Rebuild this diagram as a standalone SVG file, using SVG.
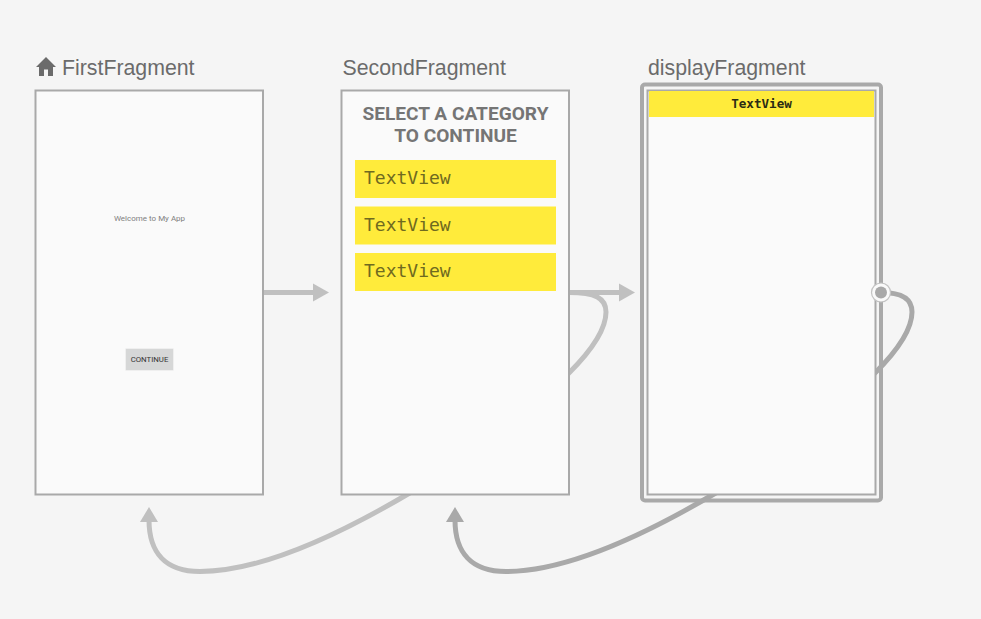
<svg xmlns="http://www.w3.org/2000/svg" width="981" height="619" viewBox="0 0 981 619">
<style>
.title{font-family:"Liberation Sans",Arial,sans-serif;font-size:21.300px;fill:#6b6b6b}
.screen{fill:#fafafa;stroke:#a9a9a9;stroke-width:2}
.tv{fill:#ffeb3b}
.tvl{font-family:"DejaVu Sans Mono",monospace;font-size:18px;fill:#6f6a20}
.c1{fill:none;stroke:#c0c0c0;stroke-width:5}
.c2{fill:none;stroke:#a9a9a9;stroke-width:5}
</style>
<rect width="981" height="619" fill="#f5f5f5"/>
<g id="connectors">
<path class="c1" d="M263 292.500H316"/>
<path d="M313 283.500L329 292.500L313 301.500Z" fill="#c0c0c0"/>
<path class="c1" d="M560 292.500H622"/>
<path d="M619 283.500L635 292.500L619 301.500Z" fill="#c0c0c0"/>
<path class="c1" d="M560 292.500H569C595 292.500 606 298 606 312C606 332 588 354 569 373L560 382"/>
<path class="c2" d="M881 292.500C901 292.500 912 298 912 312C912 332 894 354 875 373L866 382"/>
<path class="c1" d="M420 487L408 494C330 540 255 571.500 200 571.500C165 571.500 149 552 149 520"/>
<path d="M140 522L149 507L158 522Z" fill="#c0c0c0"/>
<path class="c2" d="M726 487L714 494C636 540 561 571.500 506 571.500C471 571.500 455 552 455 520"/>
<path d="M446 522L455 507L464 522Z" fill="#a9a9a9"/>
</g>
<g id="FirstFragment">
<path d="M46 57L36 67H39V76H44V69.500H48V76H53V67H56Z" fill="#6b6b6b"/>
<text class="title" x="62" y="75">FirstFragment</text>
<rect class="screen" x="35.500" y="90.500" width="227.500" height="404"/>
<text x="149.500" y="221" text-anchor="middle" font-family="Roboto,sans-serif" font-size="8px" fill="#808080">Welcome to My App</text>
<rect x="125.500" y="348.500" width="48" height="22" fill="#e4e4e4"/>
<rect x="126" y="349" width="47" height="21" fill="#d6d7d7"/>
<text x="149.500" y="362" text-anchor="middle" font-family="Roboto,sans-serif" font-size="7.800px" fill="#333">CONTINUE</text>
</g>
<g id="SecondFragment">
<text class="title" x="342.500" y="75">SecondFragment</text>
<rect class="screen" x="341.500" y="90.500" width="227.500" height="404"/>
<g font-family="Roboto,sans-serif" font-size="19.100px" font-weight="700" fill="#757575" text-anchor="middle">
<text x="455.500" y="120">SELECT A CATEGORY</text>
<text x="455.500" y="142">TO CONTINUE</text>
</g>
<rect class="tv" x="355" y="160" width="201" height="38"/>
<rect class="tv" x="355" y="206.500" width="201" height="38"/>
<rect class="tv" x="355" y="253" width="201" height="38"/>
<text class="tvl" x="364" y="184">TextView</text>
<text class="tvl" x="364" y="230.500">TextView</text>
<text class="tvl" x="364" y="277">TextView</text>
</g>
<g id="displayFragment">
<text class="title" x="648" y="75">displayFragment</text>
<rect x="642" y="84.500" width="239" height="416" rx="3" fill="none" stroke="#a9a9a9" stroke-width="4"/>
<rect class="screen" x="647.500" y="90.500" width="228" height="404"/>
<rect class="tv" x="649" y="91" width="225" height="26"/>
<text x="761.500" y="107.500" text-anchor="middle" font-family="DejaVu Sans Mono,monospace" font-size="12.600px" font-weight="700" fill="#2b2b14">TextView</text>
<circle cx="881" cy="292.500" r="9.500" fill="#fafafa" stroke="#c4c4c4" stroke-width="1.200"/>
<circle cx="881" cy="292.500" r="6" fill="#a9a9a9"/>
</g>
</svg>
